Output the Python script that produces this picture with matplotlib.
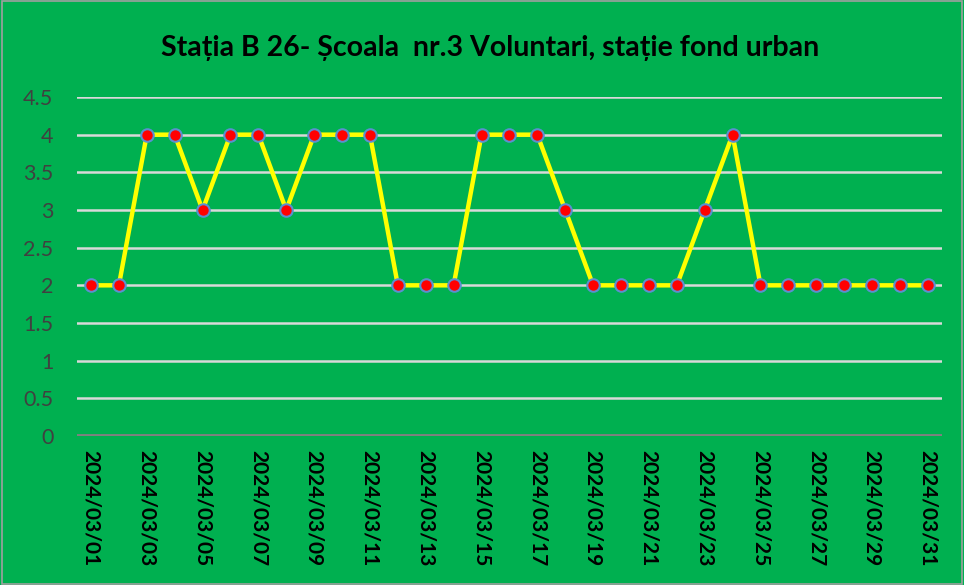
import matplotlib
matplotlib.use("Agg")
import matplotlib.pyplot as plt
from matplotlib.patches import Rectangle

dates = [f"2024/03/{d:02d}" for d in range(1, 32)]
values = [2, 2, 4, 4, 3, 4, 4, 3, 4, 4, 4, 2, 2, 2, 4, 4, 4, 3, 2, 2, 2, 2, 3, 4, 2, 2, 2, 2, 2, 2, 2]
yticks = [0, 0.5, 1, 1.5, 2, 2.5, 3, 3.5, 4, 4.5]
ytick_labels = ["0", "0.5", "1", "1.5", "2", "2.5", "3", "3.5", "4", "4.5"]
title = "Stația B 26- Școala  nr.3 Voluntari, stație fond urban"

green = "#00B050"
fig = plt.figure(figsize=(9.64, 5.85), dpi=100, facecolor=green)
ax = fig.add_axes([0.0799, 0.2547, 0.977 - 0.0799, 0.8342 - 0.2547])
ax.set_facecolor(green)

x = list(range(len(values)))
ax.plot(x, values, color="#FFFF00", lw=3.2, marker="o", markersize=9,
        markerfacecolor="#FF0000", markeredgecolor="#5B8FD0", markeredgewidth=1.5, zorder=3)

ax.set_xlim(-0.5, len(values) - 0.5)
ax.set_ylim(0, 4.5)
ax.set_yticks(yticks)
ax.set_yticklabels(ytick_labels, fontsize=15.5, color="#404040", family=["Lato", "DejaVu Sans"])
for y in yticks[1:]:
    ax.axhline(y, color="#D9D9D9", lw=1.8, zorder=1)
ax.axhline(0, color="#808080", lw=3.5, zorder=2)

ax.set_xticks(x[::2])
ax.set_xticklabels(dates[::2], rotation=-90, fontsize=15, fontweight="bold",
                   color="black", family=["Lato", "DejaVu Sans"], va="top", ha="center")
ax.tick_params(axis="both", length=0)
ax.tick_params(axis="x", pad=10)
ax.tick_params(axis="y", pad=17)
for s in ax.spines.values():
    s.set_visible(False)

fig.text(0.508, 0.918, title, ha="center", va="center", fontsize=20.5, fontweight="bold",
         color="black", family=["Lato", "DejaVu Sans"])

fig.patches.append(Rectangle((0.002, 0.002), 0.996, 0.996, transform=fig.transFigure,
                             fill=False, edgecolor="#A0A0A0", lw=1.2))

fig.savefig("out.png", dpi=100, facecolor=green)
